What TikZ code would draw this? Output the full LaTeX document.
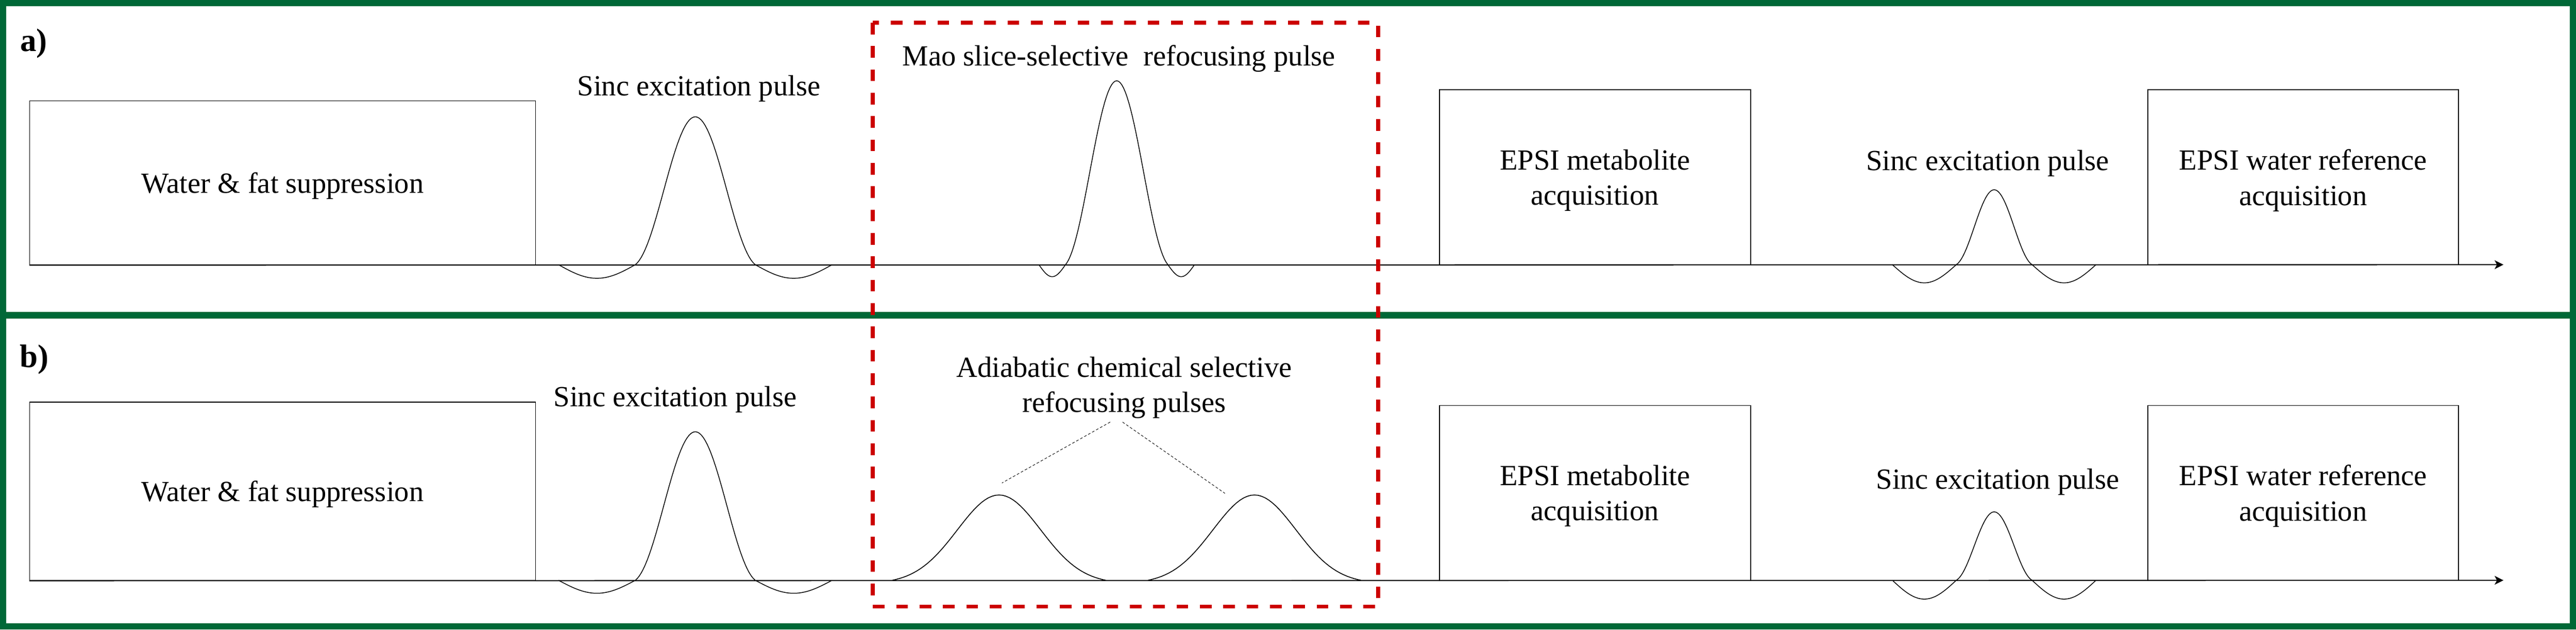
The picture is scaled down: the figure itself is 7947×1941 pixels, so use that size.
\documentclass[tikz,border=0pt]{standalone}
\usepackage{fontspec}
\setmainfont{Liberation Serif}
\usetikzlibrary{arrows.meta}

\definecolor{panelGreen}{RGB}{0,104,55}
\definecolor{focusRed}{RGB}{204,0,0}
\newcommand{\lblfont}{\fontsize{25.6}{31}\selectfont}

% sinc shaped pulse: centre, baseline, half width, height, lobe depth, lobe reach
\newcommand{\sincpulse}[6]{%
  \draw[pulse] plot[domain=-#6:-#3, samples=30] ({#1+\x},{#2+#5*sin(180/(#6-#3)*(\x+#6))})
    -- plot[domain=-#3:#3, samples=61] ({#1+\x},{#2-#4*(0.8*cos(\x/#3*90)*cos(\x/#3*90)+0.2*cos(\x/#3*90))})
    -- plot[domain=#3:#6, samples=30] ({#1+\x},{#2+#5*sin(180/(#6-#3)*(\x-#3))});}
% bell shaped adiabatic pulse: centre, baseline, half width, height
\newcommand{\adpulse}[4]{%
  \draw[pulse, line width=0.026cm] plot[domain=-#3:#3, samples=61]
    ({#1+\x},{#2-#4*(exp(-3.3*(\x/#3)*(\x/#3))-0.0369)/0.9631});}

\tikzset{
  blk/.style={draw, line width=0.025cm, inner sep=0pt, align=center, text depth=0pt, font=\lblfont},
  lbl/.style={anchor=base, inner sep=0.1cm, align=center, font=\lblfont},
  tag/.style={anchor=base west, inner sep=0pt, font=\fontsize{28.5}{34}\selectfont\bfseries},
  pulse/.style={line width=0.024cm, black},
  timeline/.style={line width=0.033cm, -{Stealth[length=0.27cm,width=0.27cm,inset=0.07cm]}},
  lead/.style={line width=0.015cm, dash pattern=on 0.08cm off 0.06cm},
  panelBox/.style={line width=0.19cm, panelGreen},
  focusBox/.style={line width=0.12cm, focusRed, dash pattern=on 0.36cm off 0.36cm}
}

\begin{document}
\begin{tikzpicture}[x=0.01cm, y=-0.01cm]
    \useasboundingbox (0,0) rectangle (7947,1941);

    \draw[panelBox] (9.5,9.5) rectangle (7937.5,1931.5);
    \draw[panelBox, line width=0.21cm] (0,972) -- (7947,972);

    % a)
    \node[tag] (tagA) at (62,158) {a)};
    \node[blk, minimum width=15.6cm, minimum height=5.05cm] (wfsA) at (872,563.5) {Water \& fat suppression};
    \node[lbl] (sincA) at (2156,295) {Sinc excitation pulse};
    \node[lbl] (maoA) at (3452,203) {Mao slice-selective~ refocusing pulse};
    \node[blk, minimum width=9.59cm, minimum height=5.39cm] (metA) at (4920.5,546.5) {EPSI metabolite\\acquisition};
    \node[lbl] (sinc2A) at (6132,526) {Sinc excitation pulse};
    \node[blk, minimum width=9.58cm, minimum height=5.39cm] (refA) at (7105,546.5) {EPSI water reference\\acquisition};
    \coordinate (endA) at (7723,816);

    \sincpulse{2145}{816}{185}{456}{42}{422}
    \sincpulse{3445}{816}{158}{567}{37}{240}
    \sincpulse{6152}{816}{117}{231}{56}{314}
    \draw[timeline] (wfsA.south west) -- (endA);

    % b)
    \node[tag] (tagB) at (60,1132) {b)};
    \node[blk, minimum width=15.6cm, minimum height=5.49cm] (wfsB) at (872,1514.5) {Water \& fat suppression};
    \node[lbl] (sincB) at (2083,1253) {Sinc excitation pulse};
    \node[lbl] (adLbl) at (3468,1271) {Adiabatic chemical selective\\refocusing pulses};
    \node[blk, minimum width=9.59cm, minimum height=5.39cm] (metB) at (4920.5,1519.5) {EPSI metabolite\\acquisition};
    \node[lbl] (sinc2B) at (6163,1508) {Sinc excitation pulse};
    \node[blk, minimum width=9.58cm, minimum height=5.39cm] (refB) at (7105,1519.5) {EPSI water reference\\acquisition};
    \coordinate (endB) at (7723,1789);
    \coordinate (tipL) at (3091,1489);
    \coordinate (tipR) at (3779,1521);

    \sincpulse{2145}{1789}{185}{458}{40}{422}
    \adpulse{3082}{1789}{330}{263}
    \adpulse{3870}{1789}{329}{263}
    \sincpulse{6152}{1789}{117}{211}{58}{314}
    \draw[timeline] (wfsB.south west) -- (endB);
    \draw[lead] ([xshift=-0.43cm]adLbl.south) -- (tipL);
    \draw[lead] ([xshift=-0.05cm]adLbl.south) -- (tipR);

    \draw[focusBox] (2692,70) rectangle (4252,1870);
\end{tikzpicture}
\end{document}
